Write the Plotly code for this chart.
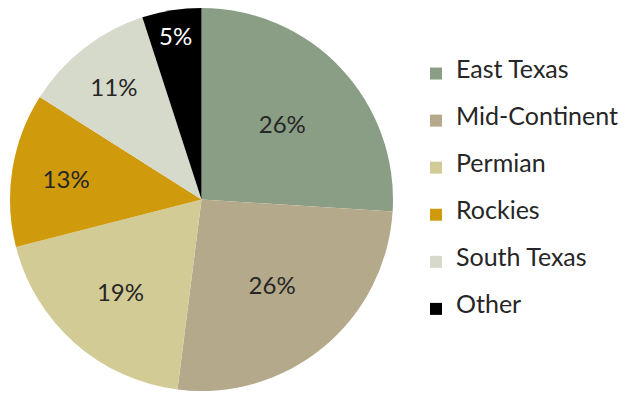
import plotly.graph_objects as go

regions = ["East Texas", "Mid-Continent", "Permian", "Rockies", "South Texas", "Other"]
shares = [26, 26, 19, 13, 11, 5]
colors = ["#8A9E86", "#B5A98B", "#D3CB95", "#CF9A0B", "#D6DACB", "#000000"]
text_colors = ["#262626", "#262626", "#262626", "#262626", "#262626", "#FFFFFF"]

# legend entries padded with blank lines to reproduce the wide row spacing
legend_labels = [" <br><span style='font-size:25px'>%s</span><br> " % r for r in regions]

fig = go.Figure(go.Pie(
    labels=legend_labels,
    values=shares,
    sort=False,
    direction="clockwise",
    rotation=0,
    marker=dict(colors=colors, line=dict(width=0)),
    textinfo="percent",
    texttemplate="%{percent:.0%}",
    textposition="inside",
    insidetextorientation="horizontal",
    insidetextfont=dict(family="Lato, Carlito, sans-serif", size=24, color=text_colors),
    domain=dict(x=[9 / 625, 394 / 625], y=[3 / 394, 386 / 394]),
    hoverinfo="label+percent",
))

fig.update_layout(
    width=625,
    height=394,
    margin=dict(l=0, r=0, t=0, b=0),
    paper_bgcolor="white",
    plot_bgcolor="white",
    showlegend=True,
    legend=dict(
        x=416 / 625,
        xanchor="left",
        y=1 - 45 / 394,
        yanchor="top",
        font=dict(family="Lato, Carlito, sans-serif", size=11.3, color="#262626"),
        bgcolor="rgba(0,0,0,0)",
        traceorder="normal",
    ),
)

fig.write_html("out.html")
